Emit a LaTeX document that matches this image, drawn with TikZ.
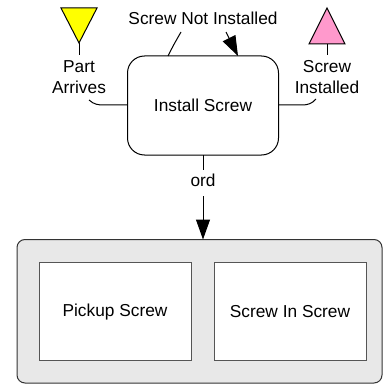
\documentclass[tikz,border=0pt]{standalone}
\usepackage{fontspec}
\setmainfont{Liberation Sans}
\usetikzlibrary{arrows.meta}
\definecolor{trig}{HTML}{FFFF00}
\definecolor{trpink}{HTML}{FF99CC}
\definecolor{outerfill}{HTML}{E8E8E8}
\definecolor{innerline}{HTML}{555555}
\tikzset{
  lbl/.style={inner sep=0pt, align=center, font=\fontsize{17.3}{21}\selectfont},
  conn/.style={line width=1pt, draw=black},
  arr/.style={conn, -{Triangle[length=20pt,width=14pt]}},
  actbox/.style={draw=black, line width=1pt, rounded corners=17pt, fill=white},
  outerbox/.style={draw=black!80, line width=1pt, rounded corners=8pt, fill=outerfill},
  innerbox/.style={draw=innerline, line width=1pt, fill=white},
}
\begin{document}
\begin{tikzpicture}[x=1pt,y=-1pt]
\useasboundingbox (0,0) rectangle (383,385);
% install screw box
\draw[actbox] (127.5,56) rectangle (278.5,155);
\node[lbl] (inst) at (203,105) {Install Screw};
\coordinate (instW) at (127.5,105);
\coordinate (instE) at (278.5,105);
\coordinate (instN1) at (168,56);
\coordinate (instN2) at (238,56);
\coordinate (instS) at (203,155);
% triangles
\draw[line width=1pt, fill=trig] (61,8) -- (97,8) -- (79,43) -- cycle;
\coordinate (ytip) at (79,43);
\draw[line width=1pt, fill=trpink] (309,44) -- (345,44) -- (327,8) -- cycle;
\coordinate (pbase) at (327,44);
% labels
\node[lbl] (pa) at (79,77.3) {Part\\Arrives};
\node[lbl] (si) at (327,77) {Screw\\Installed};
\node[lbl] (sni) at (203,18.5) {Screw Not Installed};
\node[lbl] (ord) at (203,180.5) {ord};
% connectors from triangles to labels
\draw[conn] (ytip) -- (79,55);
\draw[conn] (pbase) -- (327,55);
% part arrives -> box
\coordinate (paE) at (89,100);
\draw[conn] (paE) .. controls (94,104.5) and (98,105) .. (104,105) -- (instW);
% box -> screw installed
\coordinate (siW) at (316,99);
\draw[conn] (instE) -- (302,105) .. controls (308,105) and (312,103.5) .. (siW);
% screw not installed
\coordinate (sniL) at (181,32);
\coordinate (sniR) at (226,32);
\draw[conn] (instN1) .. controls (173,46) .. (sniL);
\draw[arr] (sniR) -- (instN2);
% outer box
\draw[outerbox] (17,239.5) rectangle (382,383);
\coordinate (outerN) at (203,239.5);
\draw[innerbox] (39.5,262) rectangle (191.5,360.5);
\node[lbl] (pick) at (115,312) {Pickup Screw};
\draw[innerbox] (214,262) rectangle (366.5,360.5);
\node[lbl] (scin) at (290,312) {Screw In Screw};
% ord connector
\draw[conn] (instS) -- (203,170);
\draw[arr] (203,196) -- (outerN);
\end{tikzpicture}
\end{document}
